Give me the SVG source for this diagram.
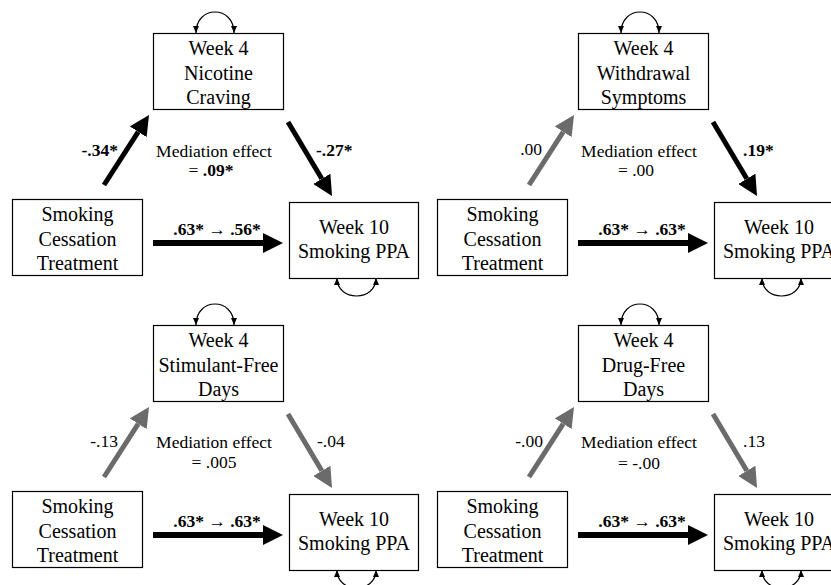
<svg xmlns="http://www.w3.org/2000/svg" width="831" height="585" viewBox="0 0 831 585">
<style>
.box{fill:#fff;stroke:#000;stroke-width:1.2}
.nt{font-family:"Liberation Serif","Times New Roman",serif;font-size:20px;fill:#000;text-anchor:middle}
.lb{font-family:"Liberation Serif","Times New Roman",serif;font-size:17.5px;fill:#000}
.b{font-weight:bold}
.mid{text-anchor:middle}
.end{text-anchor:end}
.ab{fill:none;stroke:#000;stroke-width:5;marker-end:url(#hb)}
.ag{fill:none;stroke:#6b6b6b;stroke-width:5;marker-end:url(#hg)}
.ah{fill:none;stroke:#000;stroke-width:6;marker-end:url(#hb)}
.loop{fill:none;stroke:#000;stroke-width:1.2;marker-start:url(#sm);marker-end:url(#sm)}
</style>
<defs>
<marker id="hb" markerUnits="userSpaceOnUse" viewBox="0 0 20 20" markerWidth="20" markerHeight="20" refX="0" refY="10" orient="auto"><path d="M0,0 L20,10 L0,20 z" fill="#000"/></marker>
<marker id="hg" markerUnits="userSpaceOnUse" viewBox="0 0 20 20" markerWidth="20" markerHeight="20" refX="0" refY="10" orient="auto"><path d="M0,0 L20,10 L0,20 z" fill="#6b6b6b"/></marker>
<marker id="sm" markerUnits="userSpaceOnUse" viewBox="0 0 7 6" markerWidth="7" markerHeight="6" refX="7" refY="3" orient="auto-start-reverse"><path d="M0,0 L7,3 L0,6 z" fill="#000"/></marker>
</defs>
<rect width="831" height="585" fill="#fff"/>

<!-- Panel 1: Nicotine craving -->
<g id="panel1">
<g id="p1-connectors">
<path class="ab" d="M104,185 L138.2,131.8"/>
<path class="ab" d="M288,122 L321.8,178.8"/>
<path class="ah" d="M153,243 L263,243"/>
<path class="loop" d="M196,33 C196,5 234,5 234,33"/>
<path class="loop" d="M337,278 C337,302 376,302 376,278"/>
<text class="lb b end" x="118" y="156">-.34*</text>
<text class="lb b" x="316" y="156">-.27*</text>
<text class="lb mid" x="214" y="157">Mediation effect</text>
<text class="lb mid" x="211" y="176">= <tspan class="b">.09*</tspan></text>
<text class="lb mid b" x="217" y="235">.63* <tspan font-weight="normal">→</tspan> .56*</text>
</g>
<g id="p1-mediator"><rect class="box" x="153.5" y="33.5" width="130" height="76"/><text class="nt" x="218.5" y="55">Week 4</text><text class="nt" x="218.5" y="80">Nicotine</text><text class="nt" x="218.5" y="104">Craving</text></g>
<g id="p1-treatment"><rect class="box" x="12.5" y="199.5" width="130" height="76"/><text class="nt" x="77.5" y="221">Smoking</text><text class="nt" x="77.5" y="246">Cessation</text><text class="nt" x="77.5" y="270">Treatment</text></g>
<g id="p1-outcome"><rect class="box" x="289.5" y="202.5" width="129" height="76"/><text class="nt" x="354" y="234">Week 10</text><text class="nt" x="354" y="258">Smoking PPA</text></g>
</g>

<!-- Panel 2: Withdrawal symptoms -->
<g id="panel2" transform="translate(425,0)">
<g id="p2-connectors">
<path class="ag" d="M104,185 L138.2,131.8"/>
<path class="ab" d="M288,122 L321.8,178.8"/>
<path class="ah" d="M153,243 L263,243"/>
<path class="loop" d="M196,33 C196,5 234,5 234,33"/>
<path class="loop" d="M337,278 C337,302 376,302 376,278"/>
<text class="lb end" x="117" y="155">.00</text>
<text class="lb b" x="318" y="156">.19*</text>
<text class="lb mid" x="214" y="157">Mediation effect</text>
<text class="lb mid" x="211" y="176">= .00</text>
<text class="lb mid b" x="217" y="235">.63* <tspan font-weight="normal">→</tspan> .63*</text>
</g>
<g id="p2-mediator"><rect class="box" x="153.5" y="33.5" width="130" height="76"/><text class="nt" x="218.5" y="55">Week 4</text><text class="nt" x="218.5" y="80">Withdrawal</text><text class="nt" x="218.5" y="104">Symptoms</text></g>
<g id="p2-treatment"><rect class="box" x="12.5" y="199.5" width="130" height="76"/><text class="nt" x="77.5" y="221">Smoking</text><text class="nt" x="77.5" y="246">Cessation</text><text class="nt" x="77.5" y="270">Treatment</text></g>
<g id="p2-outcome"><rect class="box" x="289.5" y="202.5" width="129" height="76"/><text class="nt" x="354" y="234">Week 10</text><text class="nt" x="354" y="258">Smoking PPA</text></g>
</g>

<!-- Panel 3: Stimulant-free days -->
<g id="panel3" transform="translate(0,292)">
<g id="p3-connectors">
<path class="ag" d="M104,185 L138.2,131.8"/>
<path class="ag" d="M288,122 L321.8,178.8"/>
<path class="ah" d="M153,243 L263,243"/>
<path class="loop" d="M196,33 C196,5 234,5 234,33"/>
<path class="loop" d="M337,278 C337,302 376,302 376,278"/>
<text class="lb end" x="118" y="155">-.13</text>
<text class="lb" x="317" y="155">-.04</text>
<text class="lb mid" x="214" y="156">Mediation effect</text>
<text class="lb mid" x="214" y="176">= .005</text>
<text class="lb mid b" x="217" y="235">.63* <tspan font-weight="normal">→</tspan> .63*</text>
</g>
<g id="p3-mediator"><rect class="box" x="153.5" y="33.5" width="130" height="76"/><text class="nt" x="218.5" y="55">Week 4</text><text class="nt" x="218.5" y="80">Stimulant-Free</text><text class="nt" x="218.5" y="104">Days</text></g>
<g id="p3-treatment"><rect class="box" x="12.5" y="199.5" width="130" height="76"/><text class="nt" x="77.5" y="221">Smoking</text><text class="nt" x="77.5" y="246">Cessation</text><text class="nt" x="77.5" y="270">Treatment</text></g>
<g id="p3-outcome"><rect class="box" x="289.5" y="202.5" width="129" height="76"/><text class="nt" x="354" y="234">Week 10</text><text class="nt" x="354" y="258">Smoking PPA</text></g>
</g>

<!-- Panel 4: Drug-free days -->
<g id="panel4" transform="translate(425,292)">
<g id="p4-connectors">
<path class="ag" d="M104,185 L138.2,131.8"/>
<path class="ag" d="M288,122 L321.8,178.8"/>
<path class="ah" d="M153,243 L263,243"/>
<path class="loop" d="M196,33 C196,5 234,5 234,33"/>
<path class="loop" d="M337,278 C337,302 376,302 376,278"/>
<text class="lb end" x="118" y="155">-.00</text>
<text class="lb" x="318" y="155">.13</text>
<text class="lb mid" x="214" y="156">Mediation effect</text>
<text class="lb mid" x="214" y="177">= -.00</text>
<text class="lb mid b" x="217" y="235">.63* <tspan font-weight="normal">→</tspan> .63*</text>
</g>
<g id="p4-mediator"><rect class="box" x="153.5" y="33.5" width="130" height="76"/><text class="nt" x="218.5" y="55">Week 4</text><text class="nt" x="218.5" y="80">Drug-Free</text><text class="nt" x="218.5" y="104">Days</text></g>
<g id="p4-treatment"><rect class="box" x="12.5" y="199.5" width="130" height="76"/><text class="nt" x="77.5" y="221">Smoking</text><text class="nt" x="77.5" y="246">Cessation</text><text class="nt" x="77.5" y="270">Treatment</text></g>
<g id="p4-outcome"><rect class="box" x="289.5" y="202.5" width="129" height="76"/><text class="nt" x="354" y="234">Week 10</text><text class="nt" x="354" y="258">Smoking PPA</text></g>
</g>
</svg>
